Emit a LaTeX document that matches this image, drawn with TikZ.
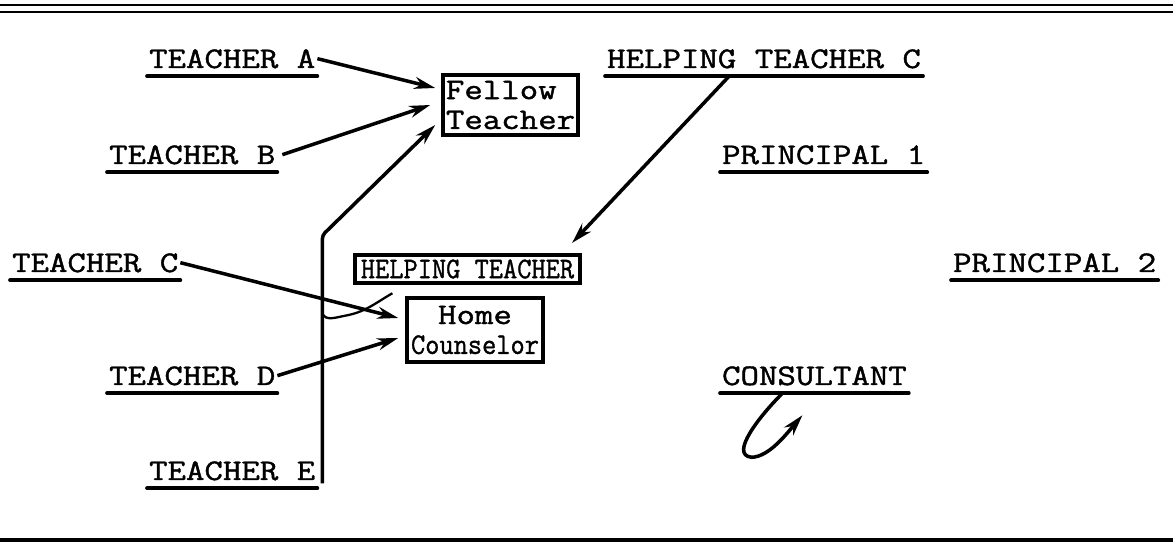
\documentclass[tikz,border=0pt]{standalone}
\usepackage{fontspec}
\setmonofont{Latin Modern Mono}[FakeStretch=1.2,FakeBold=1.4]
\usepackage{graphicx}
\usetikzlibrary{arrows.meta, calc}
\newcommand{\tw}{\fontsize{17}{17}\selectfont\ttfamily}
\newcommand{\squeeze}[1]{\scalebox{0.77}[1]{#1}}

\begin{document}
\begin{tikzpicture}[
  lbl/.style  = {font=\tw, anchor=base west, inner xsep=1pt,
                 inner ysep=4.5pt, text depth=0pt},
  box/.style  = {draw, line width=2pt, font=\tw, inner sep=1pt},
  arr/.style  = {-{Stealth[length=4.2mm,width=2.4mm]}, line width=2pt},
  ul/.style   = {line width=2.1pt, line cap=round},
  rule/.style = {line width=1.7pt},
  hand/.style = {line width=1.3pt}
]
\useasboundingbox (0,0) rectangle (23.46,10.88);

% Rules
\draw[rule] (0,10.78) -- (23.46,10.78);
\draw[rule] (0,10.64) -- (23.46,10.64);
\draw[rule, line width=2.4pt] (0,0.08) -- (23.46,0.08);

% Labels
\node[lbl] (ta)    at (2.94,9.52)  {TEACHER A};
\node[lbl] (tb)    at (2.14,7.60)  {TEACHER B};
\node[lbl] (tc)    at (0.20,5.44)  {TEACHER C};
\node[lbl] (td)    at (2.14,3.18)  {TEACHER D};
\node[lbl] (te)    at (2.94,1.28)  {TEACHER E};
\node[lbl] (htc)   at (12.10,9.52) {HELPING TEACHER C};
\node[lbl] (prin1) at (14.40,7.60) {PRINCIPAL 1};
\node[lbl] (prin2) at (19.02,5.44) {PRINCIPAL 2};
\node[lbl] (cons)  at (14.40,3.18) {CONSULTANT};

\foreach \n in {ta,tb,tc,td,te,htc,prin1,prin2,cons}
  \draw[ul] (\n.south west) -- (\n.south east);

% Boxes
\node[box, align=left, minimum width=2.7cm, minimum height=1.2cm]
  (fel) at (10.21,8.78) {Fellow\\Teacher};
\node[box, align=center, minimum width=2.72cm, minimum height=1.28cm]
  (home) at (9.50,4.28) {Home\\\squeeze{Counselor}};
\node[box, line width=2.4pt, inner sep=0pt, minimum width=4.5cm, minimum height=0.56cm]
  (ht) at (9.35,5.50) {\squeeze{HELPING TEACHER}};

% Arrows
\draw[arr] (ta.east) -- ([xshift=-1.2mm,yshift=3.4mm]fel.west);
\draw[arr] ([xshift=1mm]tb.east) -- ([xshift=-2.2mm]fel.west);
\draw[arr, rounded corners=2pt] ([xshift=1mm,yshift=1mm]te.south east) -- ++(0,4.96)
  -- ([xshift=-1.2mm,yshift=-4mm]fel.west);
\draw[arr] (tc.east) -- ([xshift=-1.4mm,yshift=2.4mm]home.west);
\draw[arr] (td.east) -- ([xshift=-1.4mm,yshift=-1.6mm]home.west);
\draw[arr] ([xshift=-7mm]htc.south) -- ([xshift=-2mm,yshift=2mm]ht.north east);
\draw[arr] ([xshift=-6.4mm]cons.south)
  .. controls +(-0.45,-0.45) and +(-0.45,0.05) .. ++(-0.62,-1.28)
  .. controls +(0.35,0) and +(-0.3,-0.35) .. ++(1.02,0.84);

% hand mark on the crossing
\coordinate (hop) at ([xshift=1mm,yshift=35mm]te.south east);
\draw[hand] (hop) to[out=-70,in=190] ++(0.45,-0.05)
  to[out=10,in=210] ++(0.95,0.45);
\end{tikzpicture}
\end{document}
